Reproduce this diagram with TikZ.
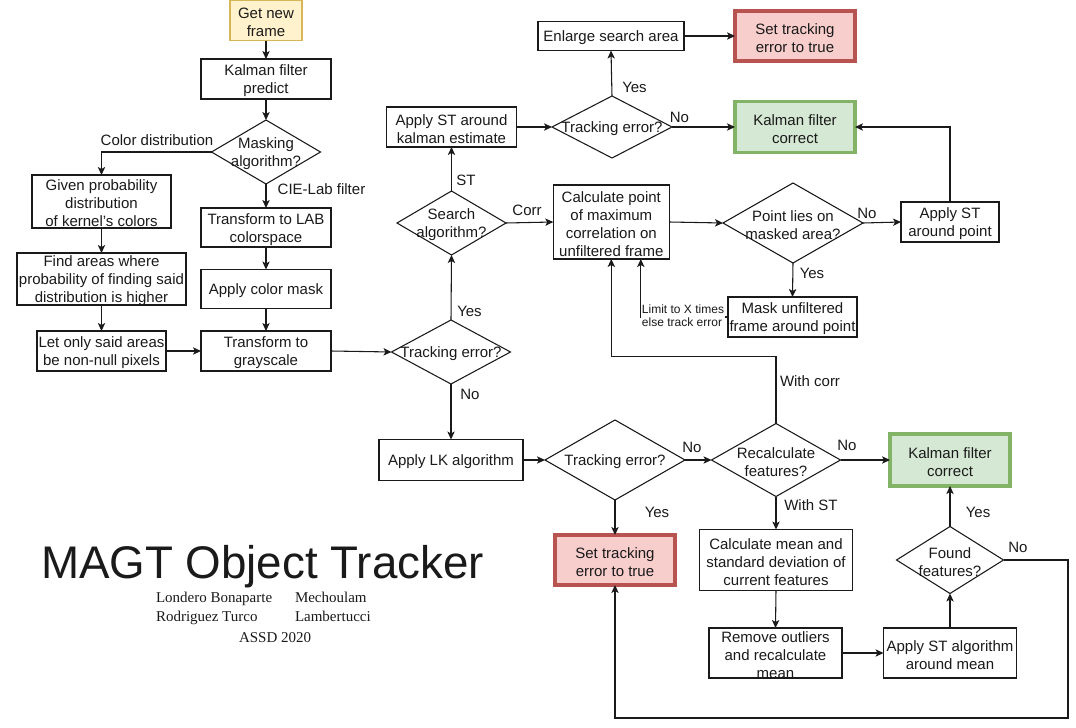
\documentclass[tikz,border=0pt]{standalone}
\usepackage{fontspec}
\setmainfont{Liberation Sans}
\newfontfamily\tmsfont{Liberation Serif}
\usetikzlibrary{shapes.geometric,arrows.meta,calc}
\definecolor{yelF}{HTML}{FFF2CC}
\definecolor{yelD}{HTML}{D6B656}
\definecolor{redF}{HTML}{F8CECC}
\definecolor{redD}{HTML}{B85450}
\definecolor{grnF}{HTML}{D5E8D4}
\definecolor{grnD}{HTML}{82B366}
\definecolor{ink}{HTML}{1A1A1A}
\begin{document}
\begin{tikzpicture}[x=0.75pt,y=-0.75pt,
  every node/.style={font=\fontsize{11.25pt}{13.5pt}\selectfont, inner sep=0pt, outer sep=0pt, text=ink},
  box/.style n args={3}{draw=ink, line width=0.8pt, fill=white,
    minimum width=#1*0.75pt, minimum height=#2*0.75pt,
    label={[align=center, yshift=-1.5pt]center:#3}},
  dia/.style n args={3}{draw=ink, diamond, line width=0.8pt, fill=white,
    minimum width=#1*0.75pt, minimum height=#2*0.75pt,
    label={[align=center, yshift=-1.5pt]center:#3}},
  redbox/.style={fill=redF, draw=redD, line width=2.6pt},
  grnbox/.style={fill=grnF, draw=grnD, line width=2.6pt},
  yelbox/.style={fill=yelF, draw=yelD},
  arr/.style={draw=ink, -{Stealth[length=6pt,width=5.5pt,inset=1.5pt]}, line width=0.8pt},
  lbl/.style={}
]
\fill[white] (0,0) rectangle (1076,728);
\useasboundingbox (0,0) rectangle (1076,728);

% left column
\node[box={72}{40}{Get new\\frame}, yelbox] (getframe) at (266,20.5) {};
\node[box={130}{40}{Kalman filter\\predict}] (kpredict) at (266,79) {};
\node[dia={109}{64}{Masking\\algorithm?}] (masking) at (266,152) {};
\node[box={139}{53}{Given probability\\distribution\\of kernel's colors}] (given) at (101.5,201.5) {};
\node[box={169}{52}{Find areas where\\probability of finding said\\distribution is higher}] (findareas) at (101.5,279) {};
\node[box={129}{40}{Let only said areas\\be non-null pixels}] (letonly) at (101.5,351) {};
\node[box={130}{39}{Transform to LAB\\colorspace}] (tolab) at (266,227.5) {};
\node[box={130}{39}{Apply color mask}] (colormask) at (266,289) {};
\node[box={130}{40}{Transform to\\grayscale}] (togray) at (266,351) {};

% middle column
\node[dia={119}{64}{Tracking error?}] (trk1) at (451,352) {};
\node[dia={109}{64}{Search\\algorithm?}] (search) at (451.5,223) {};
\node[box={130}{40}{Apply ST around\\kalman estimate}] (applyst) at (451.5,127) {};
\node[box={144}{41}{Apply LK algorithm}] (lk) at (451,460) {};

% upper right
\node[dia={120}{62}{Tracking error?}] (trk0) at (612,127) {};
\node[box={146}{29}{Enlarge search area}] (enlarge) at (611,36) {};
\node[box={120}{50}{Set tracking\\error to true}, redbox] (seterr1) at (795,36) {};
\node[box={120}{51}{Kalman filter\\correct}, grnbox] (kcorr1) at (795,127) {};
\node[box={116}{74}{Calculate point\\of maximum\\correlation on\\unfiltered frame}] (calc) at (611.3,222) {};
\node[dia={140}{80}{Point lies on\\masked area?}] (point) at (793,223) {};
\node[box={98}{40}{Apply ST\\around point}] (stpt) at (950,222) {};
\node[box={129}{40}{Mask unfiltered\\frame around point}] (mask) at (792.5,317) {};

% lower right
\node[dia={140}{80}{Tracking error?}] (trk2) at (615,460) {};
\node[dia={129}{73}{Recalculate\\features?}] (recalc) at (776,460) {};
\node[box={120}{52}{Kalman filter\\correct}, grnbox] (kcorr2) at (950,460) {};
\node[box={120}{50}{Set tracking\\error to true}, redbox] (seterr2) at (615,560) {};
\node[box={153}{61}{Calculate mean and\\standard deviation of\\current features}] (calcmean) at (776,560) {};
\node[box={133}{50}{Remove outliers\\and recalculate\\mean}] (remove) at (775.5,653) {};
\node[box={133}{50}{Apply ST algorithm\\around mean}] (stmean) at (950,653) {};
\node[dia={107}{67}{Found\\features?}] (found) at (950,560) {};

\coordinate (loopc) at (1068,718);

% connectors
\draw[arr] (getframe) -- (kpredict);
\draw[arr] (kpredict) -- (masking);
\draw[arr] (masking.west) -| (given.north);
\draw[arr] (masking.south) -- (tolab.north);
\draw[arr] (given) -- (findareas);
\draw[arr] (findareas) -- (letonly);
\draw[arr] (tolab) -- (colormask);
\draw[arr] (colormask) -- (togray);
\draw[arr] (letonly) -- (togray);
\draw[arr] (togray.east) -- (trk1.west);
\draw[arr] (trk1.north) -- (search.south);
\draw[arr] (search.north) -- (applyst.south);
\draw[arr] (applyst.east) -- (trk0.west);
\draw[arr] (trk0.north) -- (enlarge.south);
\draw[arr] (enlarge.east) -- (seterr1.west);
\draw[arr] (trk0.east) -- (kcorr1.west);
\draw[arr] (search.east) -- (calc.west);
\draw[arr] (calc.east) -- (point.west);
\draw[arr] (point.east) -- (stpt.west);
\draw[arr] (stpt.north) |- (kcorr1.east);
\draw[arr] (point.south) -- (mask.north);
\draw[arr] (mask.west) -| ($(calc.south)+(29.5,0)$);
\draw[arr] (trk1.south) -- (lk.north);
\draw[arr] (lk.east) -- (trk2.west);
\draw[arr] (trk2.east) -- (recalc.west);
\draw[arr] (recalc.north) -- ++(0,-67) -| (calc.south);
\draw[arr] (recalc.east) -- (kcorr2.west);
\draw[arr] (recalc.south) -- (calcmean.north);
\draw[arr] (calcmean.south) -- (remove.north);
\draw[arr] (remove.east) -- (stmean.west);
\draw[arr] (stmean.north) -- (found.south);
\draw[arr] (found.north) -- (kcorr2.south);
\draw[arr] (found.east) -| (loopc) -| (seterr2.south);
\draw[arr] (trk2.south) -- (seterr2.north);

% edge labels
\node[lbl] (lcolor) at (157,140) {Color distribution};
\node[lbl] (lcie) at (321.5,189) {CIE-Lab filter};
\node[lbl] (lst) at (466,180) {ST};
\node[lbl] (lcorr) at (527,210) {Corr};
\node[lbl] (lyes0) at (634.5,87) {Yes};
\node[lbl] (lno0) at (679.5,117) {No};
\node[lbl] (lyes1) at (469.5,311) {Yes};
\node[lbl] (lno1) at (470,394) {No};
\node[lbl] (lnopt) at (867,213) {No};
\node[lbl] (lyespt) at (812,273) {Yes};
\node[lbl] (lwithcorr) at (810,381) {With corr};
\node[lbl] (lno2) at (692,447) {No};
\node[lbl] (lno3) at (847,445) {No};
\node[lbl] (lyes2) at (657,512) {Yes};
\node[lbl] (lwithst) at (811,505) {With ST};
\node[lbl] (lyes3) at (978,512) {Yes};
\node[lbl] (lno4) at (1018,547) {No};
\node[fill=white, inner sep=1pt, align=left, font=\fontsize{9pt}{9.5pt}\selectfont] (llimit) at (683,316) {Limit to X times\\else track error};

% title block
\node[anchor=base west, font=\fontsize{34.3pt}{40pt}\selectfont] (title) at (41,578) {MAGT Object Tracker};
\node[anchor=base west, font=\tmsfont\fontsize{11.25pt}{13pt}\selectfont] (a1) at (156,602) {Londero Bonaparte};
\node[anchor=base west, font=\tmsfont\fontsize{11.25pt}{13pt}\selectfont] (a2) at (295,602) {Mechoulam};
\node[anchor=base west, font=\tmsfont\fontsize{11.25pt}{13pt}\selectfont] (a3) at (156,621) {Rodriguez Turco};
\node[anchor=base west, font=\tmsfont\fontsize{11.25pt}{13pt}\selectfont] (a4) at (295,621) {Lambertucci};
\node[anchor=base west, font=\tmsfont\fontsize{11.25pt}{13pt}\selectfont] (a5) at (239,642) {ASSD 2020};
\end{tikzpicture}
\end{document}
